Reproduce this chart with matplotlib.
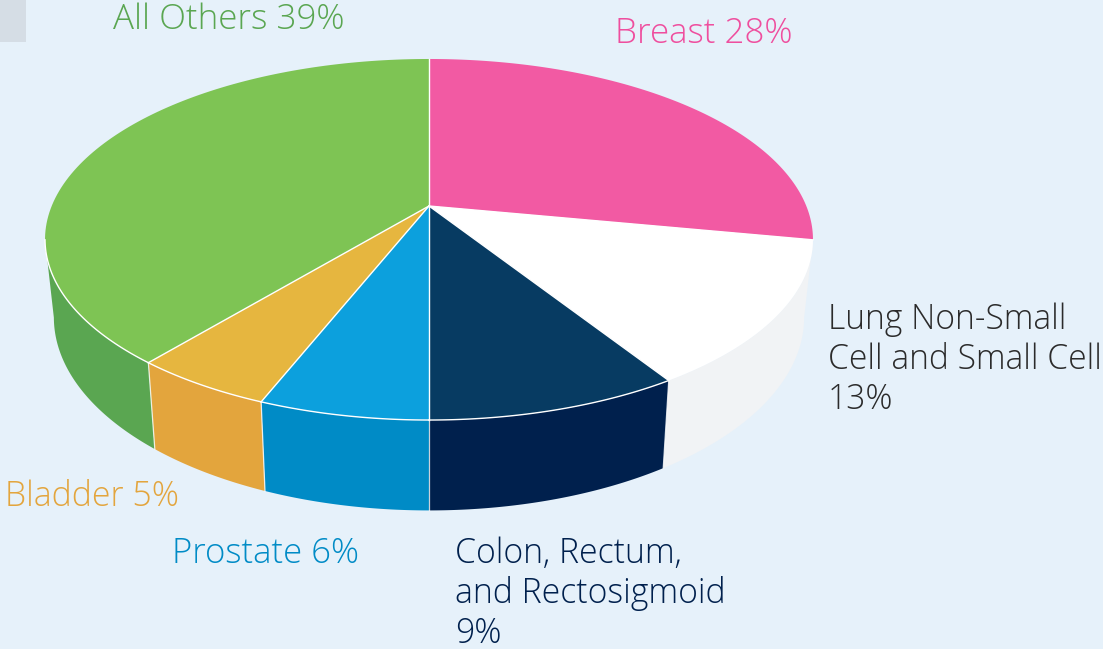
import matplotlib
matplotlib.use("Agg")
import matplotlib.pyplot as plt
from matplotlib.patches import Rectangle
import numpy as np

categories = ["Breast", "Lung Non-Small Cell and Small Cell", "Colon, Rectum, and Rectosigmoid",
              "Prostate", "Bladder", "All Others"]
shares = [28, 13, 9, 6, 5, 39]

top_colors = ["#F25AA3", "#FFFFFF", "#073B62", "#0CA0DD", "#E6B63F", "#7EC454"]
side_colors = ["#F25AA3", "#F1F3F5", "#00204D", "#008BC6", "#E3A53D", "#5AA651"]

label_lines = [
    ["Breast 28%"],
    ["Lung Non-Small", "Cell and Small Cell", "13%"],
    ["Colon, Rectum,", "and Rectosigmoid", "9%"],
    ["Prostate 6%"],
    ["Bladder 5%"],
    ["All Others 39%"],
]
label_colors = ["#EF4E9E", "#2B2B2B", "#00204D", "#008BC6", "#E3A53D", "#5AA651"]
label_pos = [(615, 43), (828, 329), (455, 563), (172, 563), (5, 506), (113, 29)]
label_sizes = [25.2, 24.2, 24.3, 25, 24.3, 25.2]
line_gap = 40

BG = "#E6F1FA"
CX, CY = 429, 206
A, B, P = 377.3, 174.3, 0.1856
X_SCALE, Y_SCALE, Y_SHIFT = 0.977, 1.07, 61.0
LEFT_EXTREME = 72.0  # share where the rim turns out of sight


def rim(start, end):
    # share (percent, clockwise from top) to pixel point, tilted circle
    t = np.radians(np.linspace(start, end, 120) * 3.6)
    u, v = np.sin(t), np.cos(t)
    return CX + A * u / (1 + P * v), CY - B * v / (1 + P * v)


def lower(x, y):
    return CX + (x - CX) * X_SCALE, y * Y_SCALE + Y_SHIFT


plt.rcParams["font.family"] = ["Open Sans", "DejaVu Sans"]
fig = plt.figure(figsize=(11.03, 6.49), dpi=100, facecolor=BG)
ax = fig.add_axes([0, 0, 1, 1])
ax.set_xlim(0, 1103)
ax.set_ylim(649, 0)
ax.axis("off")

ax.add_patch(Rectangle((0, 0), 26, 42, facecolor="#D5DDE5", edgecolor="none"))

edges = np.cumsum([0] + shares)

# side walls first
for i in range(len(shares)):
    start, end = edges[i], edges[i + 1]
    if i == 0:
        continue
    if i == len(shares) - 1:
        end = LEFT_EXTREME
    x, y = rim(start, end)
    xb, yb = lower(x, y)
    ax.fill(np.r_[x, xb[::-1]], np.r_[y, yb[::-1]], facecolor=side_colors[i],
            edgecolor="none", zorder=2)
    if i > 1:
        ax.plot([x[0], xb[0]], [y[0], yb[0]], color="#FFFFFF", lw=0.9, alpha=0.8, zorder=3)

# top of the pie
for i in range(len(shares)):
    x, y = rim(edges[i], edges[i + 1])
    ax.fill(np.r_[CX, x], np.r_[CY, y], facecolor=top_colors[i], edgecolor="none", zorder=4)

for i in range(len(shares)):
    x, y = rim(edges[i], edges[i + 1])
    if i in (2, 3, 4):
        ax.plot(x, y, color="#FFFFFF", lw=1.0, zorder=5)
    if i == 5:
        xa, ya = rim(edges[i], edges[i] + 11)
        ax.plot(xa, ya, color="#FFFFFF", lw=1.0, zorder=5)
    ax.plot([CX, x[0]], [CY, y[0]], color="#FFFFFF", lw=1.0, zorder=5)

for lines, color, size, (lx, ly) in zip(label_lines, label_colors, label_sizes, label_pos):
    for k, line in enumerate(lines):
        ax.text(lx, ly + k * line_gap, line, color=color, fontsize=size, fontweight="light",
                ha="left", va="baseline", zorder=6)

fig.savefig("out.png", dpi=100, facecolor=BG)
